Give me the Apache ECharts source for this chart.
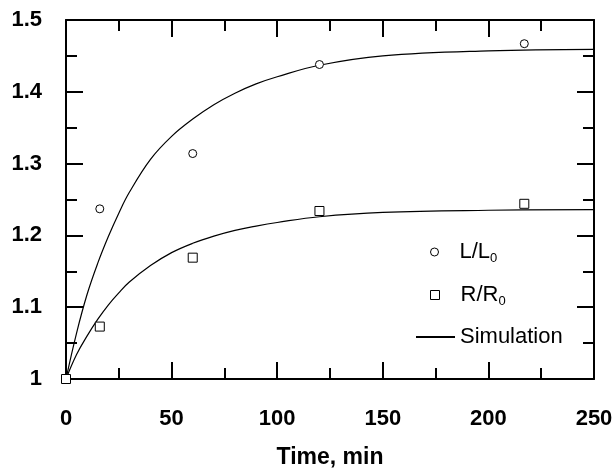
<!DOCTYPE html>
<html>
<head>
<meta charset="utf-8">
<script src="https://cdn.jsdelivr.net/npm/echarts@6/dist/echarts.min.js"></script>
<style>
  html, body { margin: 0; padding: 0; background: #fff; }
  #chart { width: 615px; height: 469px; }
</style>
</head>
<body>
<div id="chart"></div>
<script>
// measured points
const timeL = [0, 16, 60, 120, 217];
const valL = [1.0, 1.237, 1.314, 1.438, 1.467];
const timeR = [0, 16, 60, 120, 217];
const valR = [1.0, 1.073, 1.169, 1.234, 1.244];

// simulation curves
const simTime = [0, 5, 10, 15, 20, 25, 30, 40, 50, 60, 70, 80, 90, 100, 120, 150, 200, 250];
const simUpper = [1.0, 1.064, 1.118, 1.161, 1.198, 1.231, 1.260, 1.306, 1.338, 1.362, 1.382, 1.398, 1.411, 1.421, 1.437, 1.450, 1.457, 1.459];
const simLower = [1.0, 1.034, 1.060, 1.083, 1.103, 1.120, 1.135, 1.158, 1.176, 1.189, 1.199, 1.207, 1.213, 1.218, 1.226, 1.232, 1.235, 1.236];

const xTicks = { min: 0, max: 250, interval: 50 };
const yTicks = { min: 1, max: 1.5, interval: 0.1 };

const font = 'Liberation Sans, Arial, Helvetica, sans-serif';
const pairs = (xs, ys) => xs.map((x, i) => [x, ys[i]]);

const chart = echarts.init(document.getElementById('chart'));

function axisCommon(showLabel) {
  return {
    axisLine: { show: true, onZero: false, lineStyle: { color: '#000', width: 2 } },
    axisTick: { show: true, inside: true, length: 17, lineStyle: { color: '#000', width: 2 } },
    minorTick: { show: true, splitNumber: 2, length: 11, lineStyle: { color: '#000', width: 2 } },
    splitLine: { show: false },
    axisLabel: { show: showLabel }
  };
}

const subRich = {
  a: { fontFamily: font, fontSize: 22, color: '#000', padding: [0, 0, 0, 16] },
  s: { fontFamily: font, fontSize: 13, color: '#000', padding: [12, 0, 0, 0] }
};

const option = {
  animation: false,
  backgroundColor: '#fff',
  textStyle: { fontFamily: font },
  grid: { left: 66, right: 21, top: 20, bottom: 90, containLabel: false, outerBoundsMode: 'none' },
  xAxis: [
    Object.assign(axisCommon(true), {
      type: 'value', position: 'bottom',
      min: xTicks.min, max: xTicks.max, interval: xTicks.interval,
      name: 'Time, min', nameLocation: 'middle', nameGap: 67,
      nameTextStyle: { fontFamily: font, fontWeight: 'bold', fontSize: 23, color: '#000' },
      axisLabel: { show: true, margin: 29, fontFamily: font, fontWeight: 'bold', fontSize: 22, color: '#000' }
    }),
    Object.assign(axisCommon(false), {
      type: 'value', position: 'top',
      min: xTicks.min, max: xTicks.max, interval: xTicks.interval
    })
  ],
  yAxis: [
    Object.assign(axisCommon(true), {
      type: 'value', position: 'left',
      min: yTicks.min, max: yTicks.max, interval: yTicks.interval,
      axisLabel: {
        show: true, margin: 24, fontFamily: font, fontWeight: 'bold', fontSize: 22, color: '#000',
        formatter: v => String(Math.round(v * 10) / 10)
      }
    }),
    Object.assign(axisCommon(false), {
      type: 'value', position: 'right',
      min: yTicks.min, max: yTicks.max, interval: yTicks.interval
    })
  ],
  legend: [
    {
      data: ['L/L0'], orient: 'vertical', left: 430, top: 241, padding: 0,
      itemWidth: 8, itemHeight: 8,
      itemStyle: { borderWidth: 1, borderColor: '#000', color: '#fff' },
      formatter: () => '{a|L/L}{s|0}',
      textStyle: { rich: subRich }
    },
    {
      data: ['R/R0'], orient: 'vertical', left: 430, top: 284, padding: 0,
      itemWidth: 9, itemHeight: 9,
      itemStyle: { borderWidth: 1, borderColor: '#000', color: '#fff' },
      formatter: () => '{a|R/R}{s|0}',
      textStyle: { rich: subRich }
    },
    {
      data: ['Simulation'], orient: 'vertical', left: 415, top: 326, padding: 0,
      itemWidth: 39, itemHeight: 8,
      itemStyle: { color: 'transparent', borderWidth: 0 },
      textStyle: { fontFamily: font, fontSize: 22, color: '#000' }
    }
  ],
  series: [
    {
      name: 'Simulation', type: 'line', smooth: 0.4, showSymbol: false, symbol: 'none',
      data: pairs(simTime, simUpper),
      lineStyle: { color: '#000', width: 1.2 }, itemStyle: { color: '#000' }, z: 2
    },
    {
      name: 'Simulation', type: 'line', smooth: 0.4, showSymbol: false, symbol: 'none',
      data: pairs(simTime, simLower),
      lineStyle: { color: '#000', width: 1.2 }, itemStyle: { color: '#000' }, z: 2
    },
    {
      name: 'L/L0', type: 'scatter', symbol: 'circle', symbolSize: 8, clip: false,
      data: pairs(timeL, valL),
      itemStyle: { color: '#fff', borderColor: '#000', borderWidth: 1, opacity: 1 }, z: 4
    },
    {
      name: 'R/R0', type: 'scatter', symbol: 'rect', symbolSize: 9, clip: false,
      data: pairs(timeR, valR),
      itemStyle: { color: '#fff', borderColor: '#000', borderWidth: 1, opacity: 1 }, z: 5
    }
  ]
};

chart.setOption(option);
</script>
</body>
</html>
